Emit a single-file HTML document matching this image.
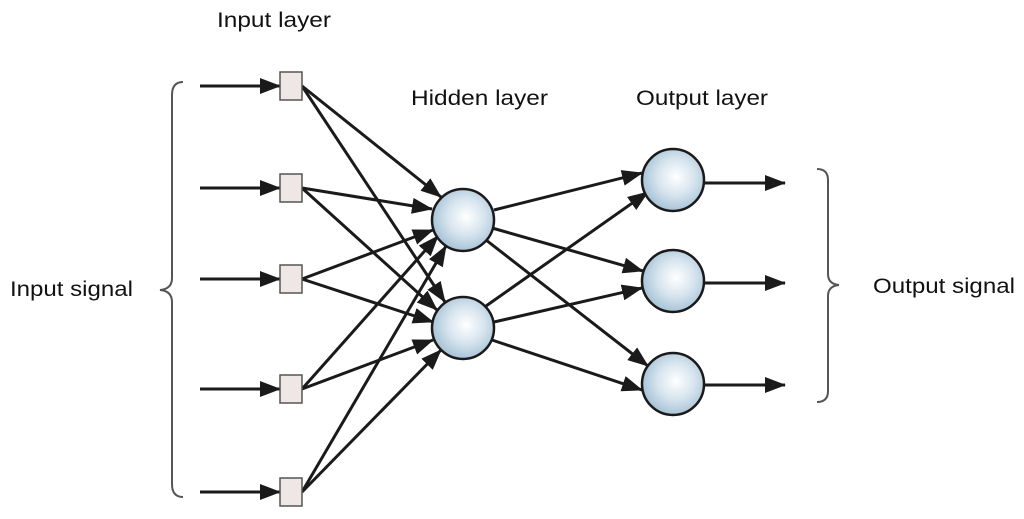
<!DOCTYPE html>
<html><head><style>html,body{margin:0;padding:0;background:#fff;}svg{display:block;}</style></head>
<body>
<svg width="1024" height="519" viewBox="0 0 1024 519" xmlns="http://www.w3.org/2000/svg" font-family="Liberation Sans, Arial, sans-serif">
<defs>
<marker id="a" markerWidth="22" markerHeight="16" refX="20" refY="8" orient="auto" markerUnits="userSpaceOnUse">
<path d="M0,0 L21,8 L0,16 Z" fill="#1a1a1a"/>
</marker>
<radialGradient id="g" cx="0.55" cy="0.45" r="0.6">
<stop offset="0" stop-color="#ffffff"/>
<stop offset="0.5" stop-color="#d6e4ee"/>
<stop offset="1" stop-color="#9fbdd3"/>
</radialGradient>
</defs>
<g font-size="21" fill="#111">
<text x="217" y="27" textLength="114" lengthAdjust="spacingAndGlyphs">Input layer</text>
<text x="411" y="105" textLength="137" lengthAdjust="spacingAndGlyphs">Hidden layer</text>
<text x="636" y="105" textLength="132" lengthAdjust="spacingAndGlyphs">Output layer</text>
<text x="10" y="296" textLength="123" lengthAdjust="spacingAndGlyphs">Input signal</text>
<text x="873" y="293" textLength="142" lengthAdjust="spacingAndGlyphs">Output signal</text>
</g>
<!-- braces -->
<path d="M183,82 Q172,82 172,95 L172,278 Q172,289 160,290 Q172,291 172,302 L172,484 Q172,497 183,497" fill="none" stroke="#555" stroke-width="2"/>
<path d="M817,169 Q828,169 828,180 L828,274 Q828,284 839,285 Q828,286 828,296 L828,391 Q828,402 817,402" fill="none" stroke="#555" stroke-width="2"/>
<g stroke="#1a1a1a" stroke-width="3" fill="none" marker-end="url(#a)">
<!-- input arrows -->
<line x1="200" y1="86" x2="280" y2="86"/>
<line x1="200" y1="188" x2="280" y2="188"/>
<line x1="200" y1="279" x2="280" y2="279"/>
<line x1="200" y1="389" x2="280" y2="389"/>
<line x1="200" y1="492" x2="280" y2="492"/>
<!-- input to hidden -->
<line x1="302" y1="86" x2="441" y2="197"/>
<line x1="302" y1="86" x2="445" y2="302"/>
<line x1="302" y1="188" x2="432" y2="209"/>
<line x1="302" y1="188" x2="437" y2="310"/>
<line x1="302" y1="279" x2="433" y2="230"/>
<line x1="302" y1="279" x2="433" y2="322"/>
<line x1="302" y1="389" x2="438" y2="236"/>
<line x1="302" y1="389" x2="433" y2="340"/>
<line x1="302" y1="492" x2="446" y2="246"/>
<line x1="302" y1="492" x2="441" y2="350"/>
<!-- hidden to output -->
<line x1="494" y1="210" x2="642" y2="173"/>
<line x1="492" y1="228" x2="643" y2="271"/>
<line x1="486" y1="240" x2="648" y2="366"/>
<line x1="486" y1="306" x2="648" y2="192"/>
<line x1="494" y1="322" x2="642" y2="288"/>
<line x1="492" y1="340" x2="642" y2="390"/>
<!-- output arrows -->
<line x1="704" y1="183" x2="785" y2="183"/>
<line x1="704" y1="283" x2="785" y2="283"/>
<line x1="704" y1="385" x2="785" y2="385"/>
</g>
<g fill="#efe6e6" stroke="#555" stroke-width="1.5">
<rect x="280" y="72" width="22" height="28"/>
<rect x="280" y="174" width="22" height="28"/>
<rect x="280" y="265" width="22" height="28"/>
<rect x="280" y="375" width="22" height="28"/>
<rect x="280" y="478" width="22" height="28"/>
</g>
<g fill="url(#g)" stroke="#1a1a1a" stroke-width="2.5">
<circle cx="463" cy="220" r="31"/>
<circle cx="463" cy="328" r="31"/>
<circle cx="673" cy="180" r="31"/>
<circle cx="673" cy="281" r="31"/>
<circle cx="673" cy="384" r="31"/>
</g>
</svg>
</body></html>
